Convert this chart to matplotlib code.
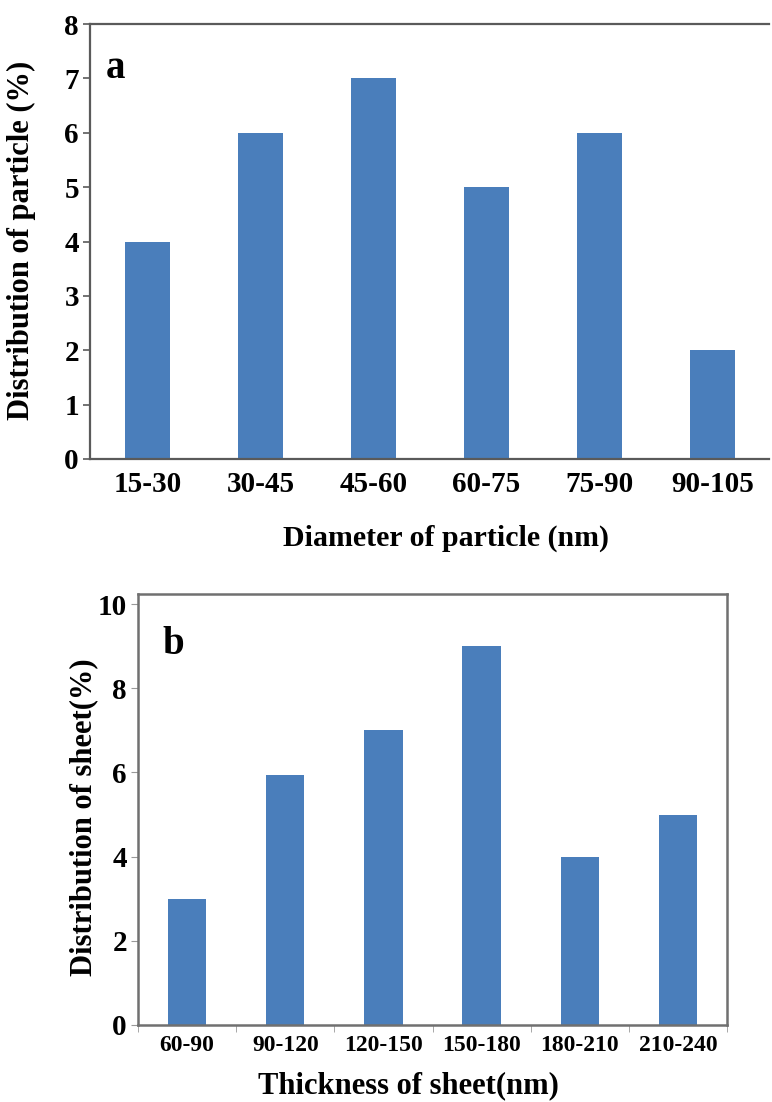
import numpy as np
import matplotlib.pyplot as plt

#### data ####
diam_labels = ['15-30', '30-45', '45-60', '60-75', '75-90', '90-105']
diam_values = [4, 6, 7, 5, 6, 2]

thick_labels = ['60-90', '90-120', '120-150', '150-180', '180-210', '210-240']
thick_values = [3, 5.95, 7, 9, 4, 5]

bar_color = '#4a7ebb'
spine_color = '#5a5a5a'

plt.rcParams['font.family'] = ['Liberation Serif', 'DejaVu Serif']
plt.rcParams['font.weight'] = 'bold'

W, H = 772, 1102
fig = plt.figure(figsize=(W / 100, H / 100), dpi=100)

def px(x, y):
    # pixel position (from top-left) -> figure fraction
    return x / W, 1 - y / H

#### panel a ####
ax1 = fig.add_axes([0.1166, 0.5835, 0.8794, 0.3947])
x1 = np.arange(len(diam_labels))
ax1.bar(x1, diam_values, width=0.4, color=bar_color)
ax1.set_xlim(-0.51, 5.5)
ax1.set_ylim(0, 8)
ax1.set_yticks(range(0, 9))
ax1.set_xticks(x1)
ax1.set_xticklabels(diam_labels, fontsize=21, fontweight='bold')
ax1.tick_params(axis='x', length=0, pad=9)
ax1.tick_params(axis='y', length=5, width=1.2, color=spine_color, labelsize=21, pad=3)
for lab in ax1.get_yticklabels():
    lab.set_fontweight('bold')
ax1.spines['right'].set_visible(False)
for s in ['left', 'bottom', 'top']:
    ax1.spines[s].set_color(spine_color)
    ax1.spines[s].set_linewidth(1.6)
ax1.text(0.0236, 0.876, 'a', transform=ax1.transAxes, fontsize=28, fontweight='bold', va='baseline')

fig.text(*px(21, 240), 'Distribution of particle (%)', rotation=90, ha='center', va='center',
         fontsize=22, fontweight='bold')
fig.text(*px(446, 538), 'Diameter of particle (nm)', ha='center', va='center',
         fontsize=21.5, fontweight='bold')

#### panel b ####
ax2 = fig.add_axes([0.1788, 0.0699, 0.7629, 0.3911])
x2 = np.arange(len(thick_labels))
ax2.bar(x2, thick_values, width=0.39, color=bar_color)
ax2.set_xlim(-0.5, 5.5)
ax2.set_ylim(0, 10.24)
ax2.set_yticks(range(0, 11, 2))
ax2.set_xticks(x2)
ax2.set_xticklabels(thick_labels, fontsize=17, fontweight='bold')
ax2.set_xticks(np.arange(-0.5, 6, 1), minor=True)
ax2.tick_params(axis='x', which='major', length=0, pad=7)
ax2.tick_params(axis='x', which='minor', length=5, color='#999999')
ax2.tick_params(axis='y', length=5, color='#999999', labelsize=21, pad=3)
for lab in ax2.get_yticklabels():
    lab.set_fontweight('bold')
for s in ax2.spines.values():
    s.set_color('#707070')
    s.set_linewidth(1.8)
ax2.text(0.041, 0.861, 'b', transform=ax2.transAxes, fontsize=28, fontweight='bold', va='baseline')

fig.text(*px(84, 817), 'Distribution of sheet(%)', rotation=90, ha='center', va='center',
         fontsize=22, fontweight='bold')
fig.text(*px(408, 1086), 'Thickness of sheet(nm)', ha='center', va='center',
         fontsize=22, fontweight='bold')

plt.savefig('out.png', dpi=100)
